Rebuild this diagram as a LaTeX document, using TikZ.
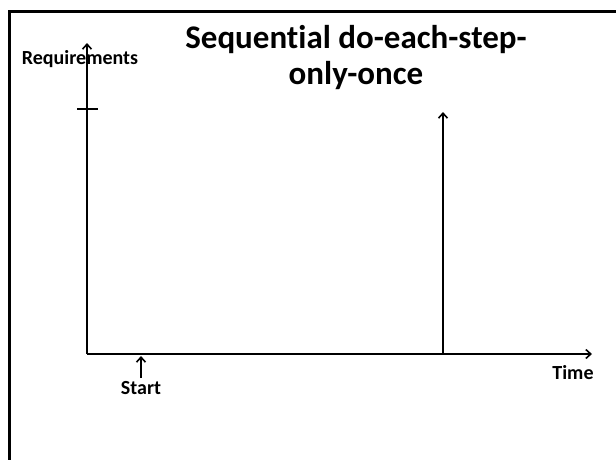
\documentclass[tikz,border=0pt]{standalone}
\usepackage{fontspec}
\setmainfont{Carlito}[Ligatures=NoCommon]
\usetikzlibrary{arrows.meta}

\begin{document}
\begin{tikzpicture}[x=1pt, y=-1pt,
    axis/.style={line width=2pt, -{Straight Barb[length=5pt, width=9pt, line width=1.6pt]}},
    lbl/.style={font=\bfseries\fontsize{20}{24}\selectfont, inner sep=0pt}]
        \useasboundingbox (0,0) rectangle (616,459);

        % Remelis
        \draw[line width=3pt] (618,11) -- (9,11) -- (9,461);

        % Asys
        \coordinate (O) at (87,354);
        \coordinate (Ytop) at (87,43);
        \coordinate (Xend) at (592,354);
        \draw[axis] (O) -- (Ytop);
        \draw[axis] (O) -- (Xend);

        % Brukselis ant reikalavimu asies
        \coordinate (tickL) at (77,109);
        \coordinate (tickR) at (98,109);
        \draw[line width=2.5pt] (tickL) -- (tickR);

        % Pabaigos linija
        \coordinate (Fbase) at (443,354);
        \coordinate (Ftop) at (443,112);
        \draw[axis] (Fbase) -- (Ftop);

        % Pradzios rodykle
        \coordinate (Sbase) at (141,378);
        \coordinate (Stip) at (141,356);
        \draw[axis] (Sbase) -- (Stip);

        % Uzrasai
        \node[lbl] (req) at (80,59) {Requirements};
        \node[lbl] (start) at (141,388) {Start};
        \node[lbl] (time) at (573,373) {Time};
        \node[font=\bfseries\fontsize{33}{36}\selectfont, align=center, inner sep=0pt]
            (title) at (356,58) {Sequential do-each-step-\\only-once};
    \end{tikzpicture}
\end{document}
